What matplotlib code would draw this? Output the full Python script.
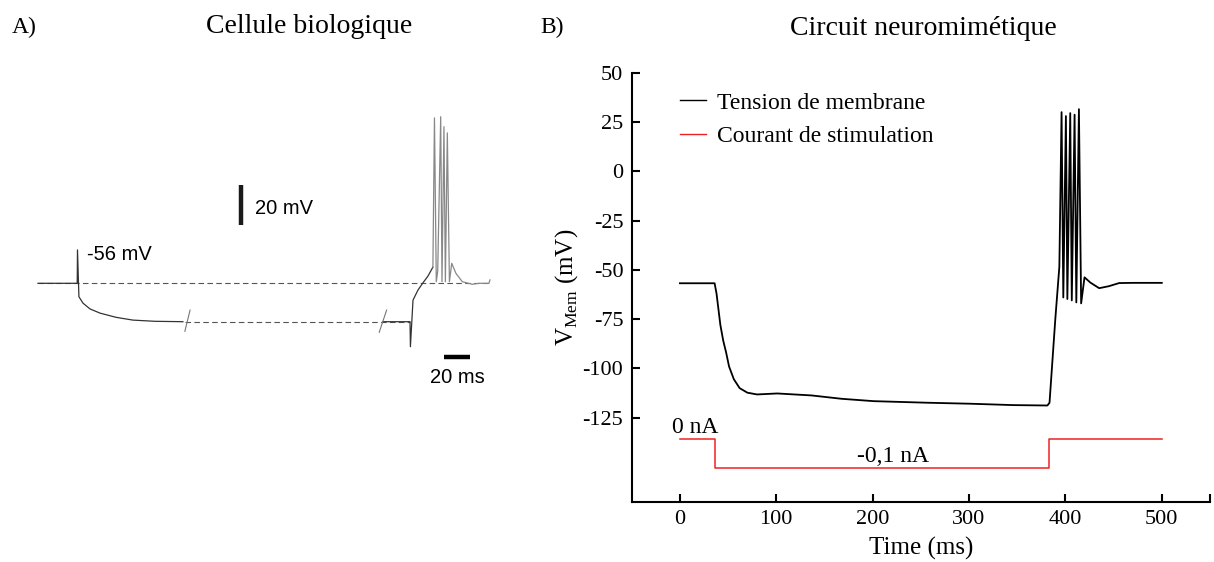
import matplotlib.pyplot as plt

plt.rcParams['axes.unicode_minus'] = False

# ---- panel A : biological cell (schematic trace, ms / mV) ----
a_time = [0, 30.2, 30.4, 31.5, 34.6, 40, 47.7, 60, 73, 90, 111.5,
          None,
          265.4, 286.2, 286.5, 288.5, 292.3, 296, 300, 303.8]
a_volt = [-56, -56, -39.3, -62.7, -65.9, -68.8, -70.9, -73, -74.4, -75, -75.2,
          None,
          -75.2, -75.2, -87.7, -64.4, -59.4, -55.9, -52.4, -47.9]
a_spike_time = [303.8, 305, 306.4, 307.5, 309.8, 310.8, 312.3, 313.4, 314.9, 316.5, 318.3,
                321.5, 326.4, 334.1, 339.2, 346.9, 347.7]
a_spike_volt = [-47.9, 26.7, -55.2, -50, 27.3, -55.2, 22.3, -55.2, 19.2, -55.2, -46,
                -51, -55.2, -56.5, -56, -56, -54.3]
a_rest = -56
a_plateau = -75.2

# ---- panel B : neuromimetic circuit ----
b_time = [0, 36, 38, 40, 42, 45, 48, 51, 56, 62, 70, 80, 101, 136.6, 167.7, 201,
          256.7, 301, 345.7, 381.3, 383.5, 389.5, 393.7,
          396, 397.8, 400.5, 402, 405, 406.6, 409.5, 411.3, 414, 416.3,
          419.8, 426, 435, 445, 455.7, 470, 500]
b_volt = [-56.8, -56.8, -62, -70, -78, -86, -92, -99, -105.5, -110, -112.3, -113.2,
          -112.7, -113.7, -115.4, -116.6, -117.4, -117.9, -118.6, -118.8, -117.4, -75, -48.4,
          30, -64, 28, -64.8, 29.5, -65.5, 28.7, -66.5, 31.5, -67,
          -53.8, -56.5, -59.3, -58.3, -56.7, -56.6, -56.6]
stim_time = [0, 36, 36, 382.5, 382.5, 500]
stim_level = [-135.7, -135.7, -150.4, -150.4, -135.7, -135.7]

W, H = 1214, 562
fig = plt.figure(figsize=(W / 100, H / 100), dpi=100)

serif = ['Liberation Serif', 'DejaVu Serif']
sans = ['Liberation Sans', 'DejaVu Sans']

# panel A axes placed so 1.3 px = 1 ms and 2 px = 1 mV
axA = fig.add_axes([0, 0, 520 / W, 1])
axA.set_xlim(-29.2, 370.8)
axA.set_ylim(-195.35, 85.65)
axA.axis('off')

axA.plot([0, 347.7], [a_rest, a_rest], ls=(0, (5, 3)), color='#555555', lw=0.8)
axA.plot([113, 286], [a_plateau, a_plateau], ls=(0, (5, 3)), color='#555555', lw=0.8)
axA.plot(a_time, a_volt, color='#333333', lw=0.9)
axA.plot(a_spike_time, a_spike_volt, color='#888888', lw=0.9)
# axis break marks
axA.plot([113, 117], [-80, -69.4], color='#777777', lw=0.8)
axA.plot([262.5, 268.2], [-80.5, -69.4], color='#777777', lw=0.8)
# scale bars
axA.plot([155.9, 155.9], [-26.85, -6.85], color='#1a1a1a', lw=3.2, solid_capstyle='butt')
axA.plot([312.5, 332.5], [-92.7, -92.7], color='black', lw=3.2, solid_capstyle='butt')
axA.text(166.9, -18.35, '20 mV', fontsize=14.5, family=sans, va='center', ha='left')
axA.text(323, -103, '20 ms', fontsize=14.5, family=sans, va='center', ha='center')
axA.text(37.5, -41.85, '-56 mV', fontsize=14.5, family=sans, va='center', ha='left')

fig.text(12 / W, 1 - 33 / H, 'A)', fontsize=17, family=serif, va='baseline')
fig.text(309.5 / W, 1 - 33 / H, 'Cellule biologique', fontsize=20, family=serif,
         va='baseline', ha='center')
fig.text(540 / W, 1 - 33 / H, 'B)', fontsize=17, family=serif, va='baseline')
fig.text(923 / W, 1 - 35 / H, 'Circuit neuromimétique', fontsize=20, family=serif,
         va='baseline', ha='center')

# panel B axes
axB = fig.add_axes([631.7 / W, 1 - 501.7 / H, (1210 - 631.7) / W, (501.7 - 72.7) / H])
axB.plot(b_time, b_volt, color='black', lw=1.3, label='Tension de membrane')
axB.plot(stim_time, stim_level, color='#ee2222', lw=1.1, label='Courant de stimulation')
axB.set_xlim(-50, 550)
axB.set_ylim(-167.6, 50)
axB.spines['top'].set_visible(False)
axB.spines['right'].set_visible(False)
axB.spines['left'].set_bounds(-167.6, 50)
for s in ['left', 'bottom']:
    axB.spines[s].set_linewidth(1.5)
axB.set_xticks([0, 100, 200, 300, 400, 500])
axB.set_xticks([550], minor=True)
axB.set_yticks([50, 25, 0, -25, -50, -75, -100, -125])
axB.tick_params(which='both', direction='in', length=6, width=1.5, labelsize=16, pad=6)
for lbl in axB.get_xticklabels() + axB.get_yticklabels():
    lbl.set_family(serif)
axB.set_xlabel('Time (ms)', fontsize=18, family=serif, labelpad=6)
axB.set_ylabel(r'V$_{\mathregular{Mem}}$ (mV)', fontsize=18, family=serif, labelpad=2)

axB.text(-8.6, -130.1, '0 nA', fontsize=17, family=serif, va='center', ha='left')
axB.text(221, -144.8, '-0,1 nA', fontsize=17, family=serif, va='center', ha='center')

leg = axB.legend(loc='upper left', bbox_to_anchor=(0.0835, 0.955), frameon=False,
                 handlelength=1.1, handletextpad=0.45, labelspacing=0.5,
                 borderpad=0, borderaxespad=0, prop={'family': serif, 'size': 17})
for line in leg.get_lines():
    line.set_linewidth(1.0)

fig.savefig('out.png', dpi=100)
